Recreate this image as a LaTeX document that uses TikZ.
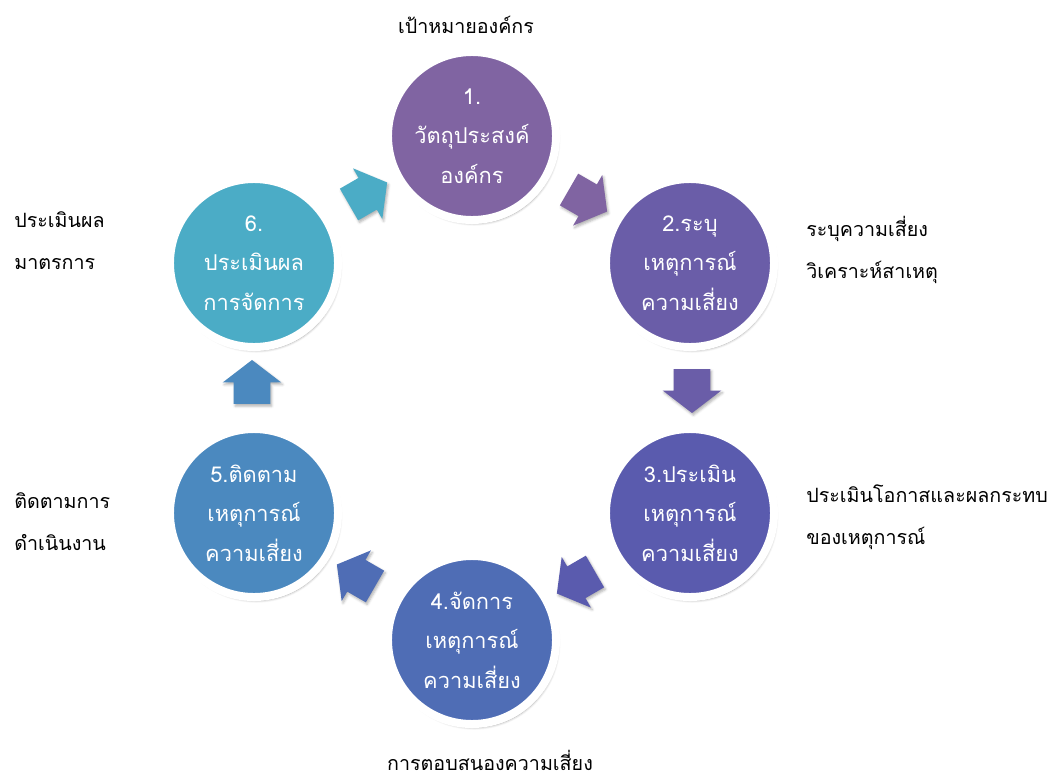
\documentclass[tikz,border=0pt]{standalone}
\usepackage{fontspec}
\newfontfamily\thaifont[Script=Thai]{Loma}
\usetikzlibrary{shapes.arrows,shadows.blur}

\definecolor{stageA}{HTML}{8064A2}
\definecolor{stageB}{HTML}{6A5DA8}
\definecolor{stageC}{HTML}{5A5BAE}
\definecolor{stageD}{HTML}{4F6DB5}
\definecolor{stageE}{HTML}{4B89BF}
\definecolor{stageF}{HTML}{4BACC6}

\tikzset{
	stage/.style={circle, draw=white, line width=0.2cm, minimum size=4.2cm, inner sep=0pt,
		text=white, align=center, font=\thaifont\fontsize{15.5}{28}\selectfont,
		blur shadow={shadow xshift=1.5pt, shadow yshift=-2.5pt, shadow opacity=35, shadow blur steps=6}},
	flow/.style={single arrow, draw=none, minimum height=1.1cm, inner sep=0pt,
		text height=0.45cm, text depth=0.45cm, text width=0pt,
		single arrow head extend=0.275cm, single arrow tip angle=105,
		blur shadow={shadow xshift=1pt, shadow yshift=-1.5pt, shadow opacity=30, shadow blur steps=4}},
	note/.style={align=left, anchor=west, inner sep=0pt, font=\thaifont\fontsize{14}{30}\selectfont}
}

\begin{document}
\begin{tikzpicture}[x=0.025cm, y=-0.025cm]
			\useasboundingbox (0,0) rectangle (1053,778);
			% the six stages
			\node[stage, fill=stageA] (goal) at (472,136) {1.\\วัตถุประสงค์\\องค์กร};
			\node[stage, fill=stageB] (identify) at (690,263) {2.ระบุ\\เหตุการณ์\\ความเสี่ยง};
			\node[stage, fill=stageC] (assess) at (690,513) {3.ประเมิน\\เหตุการณ์\\ความเสี่ยง};
			\node[stage, fill=stageD] (manage) at (472,640) {4.จัดการ\\เหตุการณ์\\ความเสี่ยง};
			\node[stage, fill=stageE] (monitor) at (254,513) {5.ติดตาม\\เหตุการณ์\\ความเสี่ยง};
			\node[stage, fill=stageF] (review) at (254,263) {6.\\ประเมินผล\\การจัดการ};
			% block arrows between stages
			\node[flow, fill=stageA, rotate=-30] (goaltoidentify) at (582,197) {};
			\node[flow, fill=stageB, rotate=-90] (identifytoassess) at (692,384) {};
			\node[flow, fill=stageC, rotate=-150] (assesstomanage) at (582,579) {};
			\node[flow, fill=stageD, rotate=150] (managetomonitor) at (362,579) {};
			\node[flow, fill=stageE, rotate=90] (monitortoreview) at (252,389) {};
			\node[flow, fill=stageF, rotate=30] (reviewtogoal) at (362,197) {};
			% side notes
			\node[note, anchor=center] (goalnote) at (466,25) {เป้าหมายองค์กร};
			\node[note] (identifynote) at (806,250) {ระบุความเสี่ยง\\วิเคราะห์สาเหตุ};
			\node[note] (assessnote) at (806,517) {ประเมินโอกาสและผลกระทบ\\ของเหตุการณ์};
			\node[note, anchor=center] (managenote) at (490,760) {การตอบสนองความเสี่ยง};
			\node[note] (monitornote) at (14,522) {ติดตามการ\\ดำเนินงาน};
			\node[note] (reviewnote) at (14,241) {ประเมินผล\\มาตรการ};
		\end{tikzpicture}
\end{document}
